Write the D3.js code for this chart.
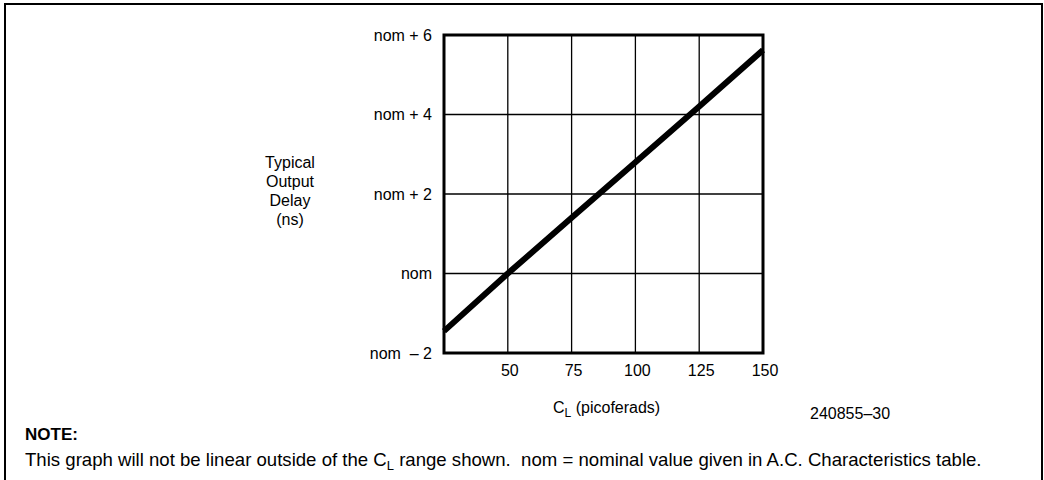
<!DOCTYPE html>
<meta charset="utf-8">
<style>
 body { margin: 0; background: #fff; }
 text {
  font-family: "Liberation Sans", Arial, Helvetica, sans-serif;
  font-size: 16px;
  fill: #000;
 }
 .grid line { stroke: #000; stroke-width: 1.3; }
 .frame { fill: none; stroke: #000; stroke-width: 3; }
 .delay { fill: none; stroke: #000; stroke-width: 6; }
</style>
<body>
<div id="chart"></div>
<script src="https://cdn.jsdelivr.net/npm/d3@7"></script>
<script>
// load capacitance (pF) vs output delay offset from nominal (ns)
var capValues = [25, 50, 75, 100, 125, 150];
var delayValues = [-1.45, 0, 1.4, 2.8, 4.2, 5.62];
var xTicks = [50, 75, 100, 125, 150];
var yTicks = [-2, 0, 2, 4, 6];
var yTickLabels = ["nom \u00a0\u2013 2", "nom", "nom + 2", "nom + 4", "nom + 6"];
var yTitleLines = ["Typical", "Output", "Delay", "(ns)"];

(function(){

  var width = 1044, height = 480;
  var left = 444, right = 763, top = 35, bottom = 353;

  var svg = d3.select("#chart")
      .append("svg")
      .attr("width", width)
      .attr("height", height);

  // outer page frame (open at the bottom)
  svg.append("path")
      .attr("d", "M5,480 V4 H1042 V480")
      .attr("fill", "none")
      .attr("stroke", "#000")
      .attr("stroke-width", 2);

  var x = d3.scaleLinear().domain([25, 150]).range([left, right]);
  var y = d3.scaleLinear().domain([-2, 6]).range([bottom, top]);

  var grid = svg.append("g").attr("class", "grid");
  grid.selectAll("line.v")
      .data(xTicks.filter(function(d) { return d < 150; }))
      .enter().append("line")
      .attr("class", "v")
      .attr("x1", function(d) { return x(d); })
      .attr("x2", function(d) { return x(d); })
      .attr("y1", top).attr("y2", bottom);
  grid.selectAll("line.h")
      .data(yTicks.filter(function(d) { return d > -2 && d < 6; }))
      .enter().append("line")
      .attr("class", "h")
      .attr("x1", left).attr("x2", right)
      .attr("y1", function(d) { return y(d); })
      .attr("y2", function(d) { return y(d); });

  var line = d3.line()
      .x(function(d) { return x(d[0]); })
      .y(function(d) { return y(d[1]); });

  svg.append("path")
      .datum(d3.zip(capValues, delayValues))
      .attr("class", "delay")
      .attr("d", line);

  svg.append("rect")
      .attr("class", "frame")
      .attr("x", left).attr("y", top)
      .attr("width", right - left).attr("height", bottom - top);

  // y tick labels
  svg.selectAll("text.ylab")
      .data(yTicks)
      .enter().append("text")
      .attr("class", "ylab")
      .attr("x", left - 12)
      .attr("y", function(d) { return y(d); })
      .attr("dy", "0.35em")
      .attr("text-anchor", "end")
      .text(function(d, i) { return yTickLabels[i]; });

  // x tick labels
  svg.selectAll("text.xlab")
      .data(xTicks)
      .enter().append("text")
      .attr("class", "xlab")
      .attr("x", function(d) { return x(d) + 2; })
      .attr("y", 376)
      .attr("text-anchor", "middle")
      .text(function(d) { return d; });

  // y title
  svg.selectAll("text.ytitle")
      .data(yTitleLines)
      .enter().append("text")
      .attr("class", "ytitle")
      .attr("x", 290)
      .attr("y", function(d, i) { return 168 + i * 19; })
      .attr("text-anchor", "middle")
      .text(function(d) { return d; });

  // x title with subscript
  var xt = svg.append("text").attr("x", 553).attr("y", 413);
  xt.append("tspan").text("C");
  xt.append("tspan").attr("dy", 4).style("font-size", "12px").text("L");
  xt.append("tspan").attr("dy", -4).text(" (picoferads)");

  svg.append("text")
      .attr("x", 810).attr("y", 419)
      .text("240855\u201330");

  svg.append("text")
      .attr("x", 25).attr("y", 440)
      .style("font-weight", "bold")
      .style("font-size", "17px")
      .text("NOTE:");

  var note = svg.append("text").attr("x", 25).attr("y", 466).style("font-size", "18.6px");
  note.append("tspan").text("This graph will not be linear outside of the C");
  note.append("tspan").attr("dy", 4).style("font-size", "13px").text("L");
  note.append("tspan").attr("dy", -4)
      .text(" range shown. \u00a0nom = nominal value given in A.C. Characteristics table.");

})();
</script>
</body>
